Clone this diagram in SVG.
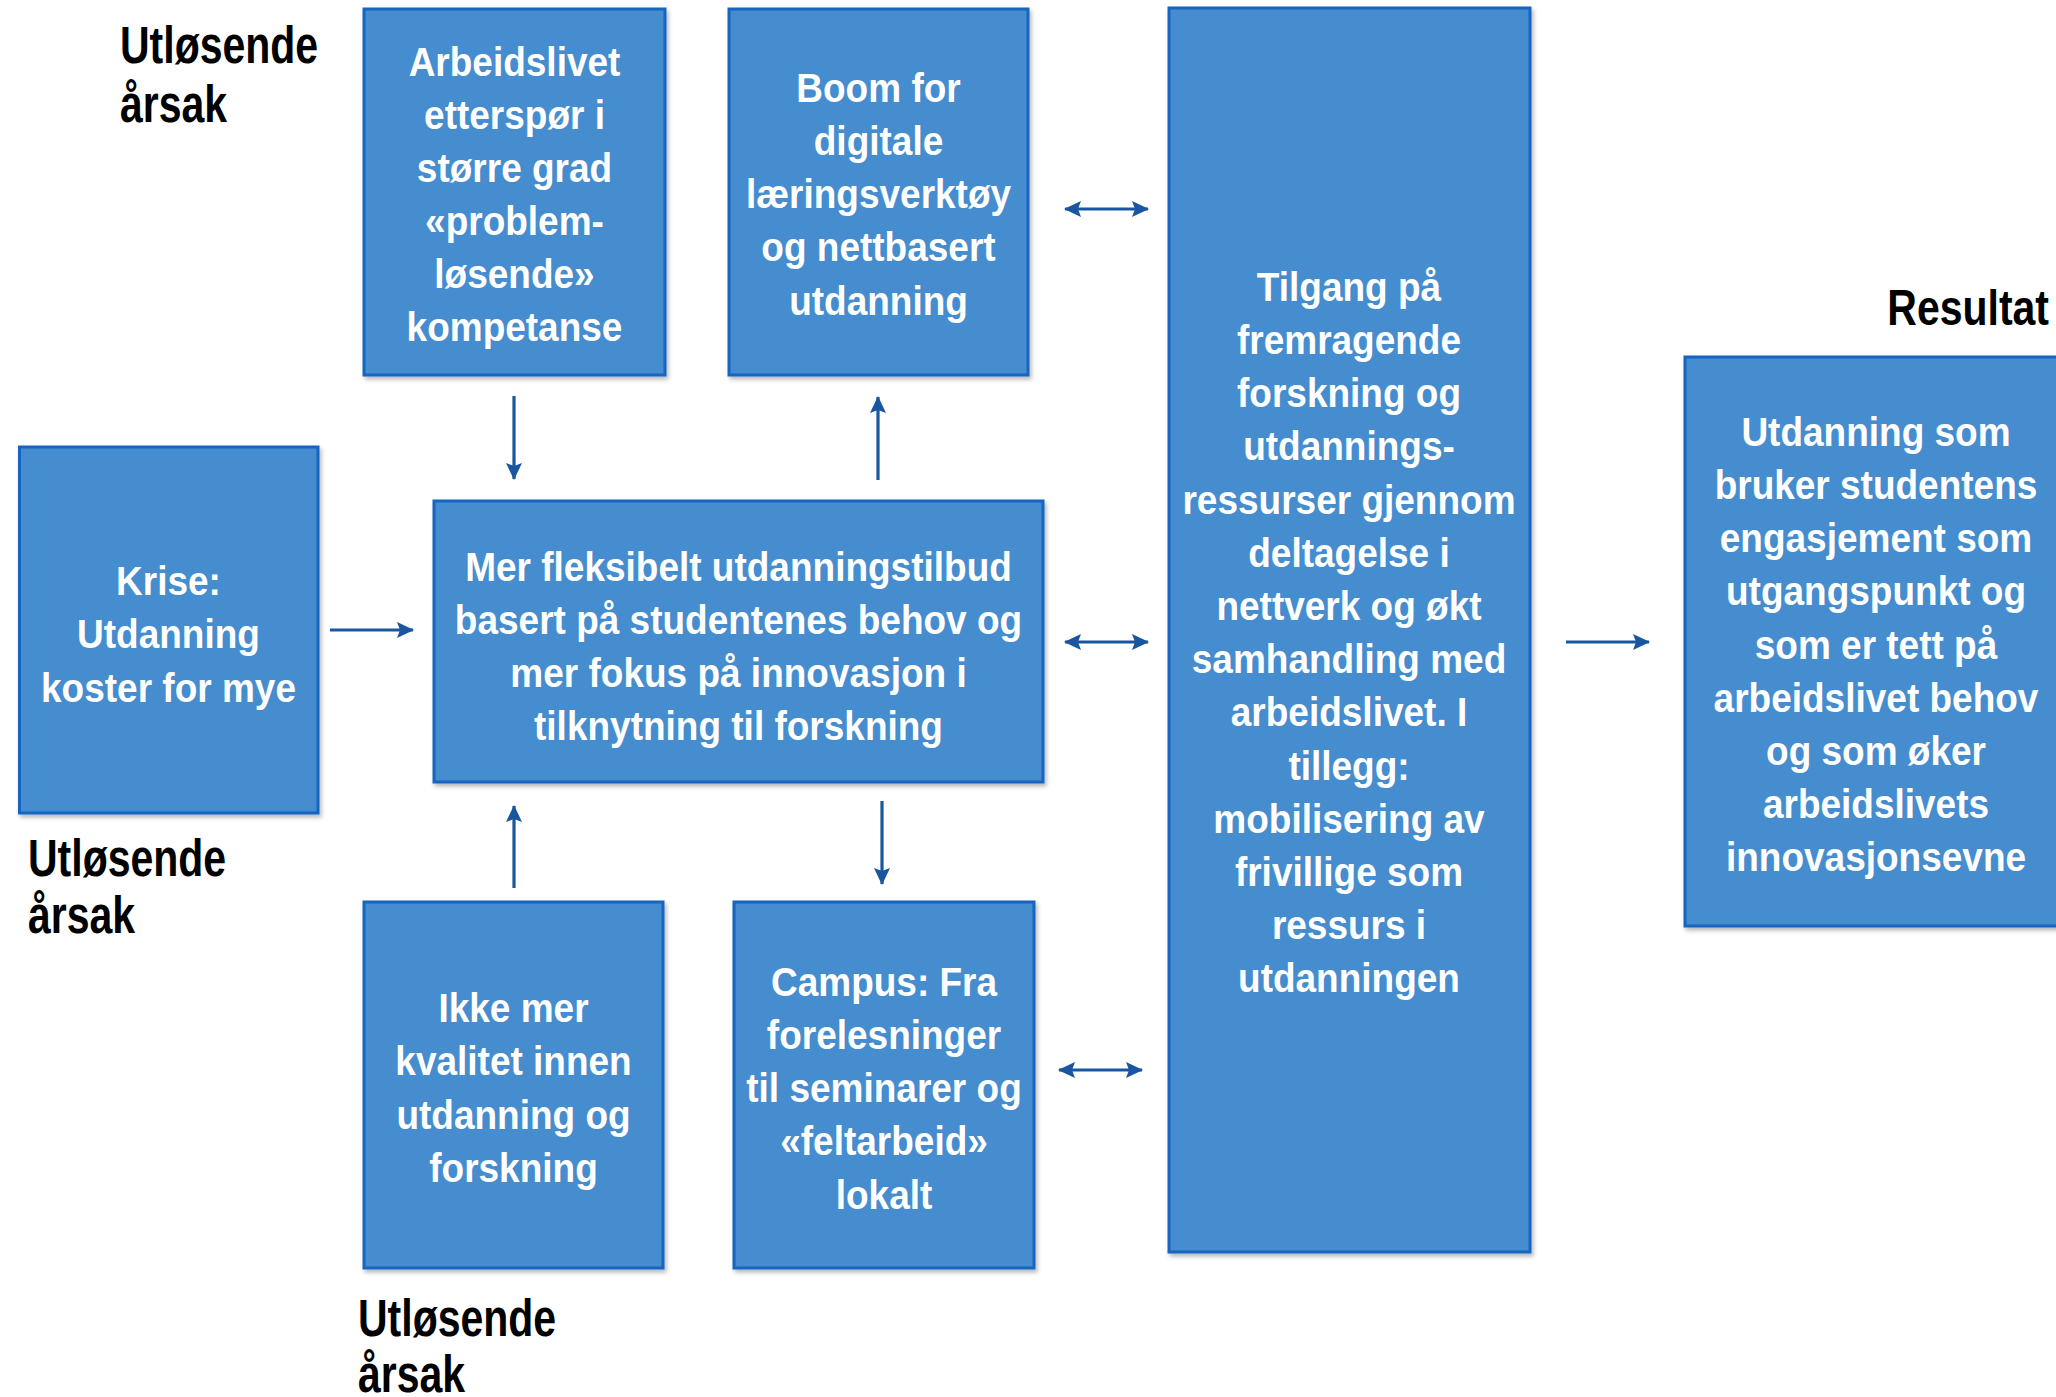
<svg xmlns="http://www.w3.org/2000/svg" width="2056" height="1397" viewBox="0 0 2056 1397">
  <style>
    .box { fill: #448DCF; stroke: #1565C0; stroke-width: 3; filter: url(#shadow); }
    .bt { font-family: "Liberation Sans", Arial, sans-serif; font-weight: bold; font-size: 37px; fill: #FFFFFF; text-anchor: middle; }
    .lbl { font-family: "Liberation Sans", Arial, sans-serif; font-weight: bold; font-size: 41px; fill: #000000; }
    .conn { stroke: #1A56A0; stroke-width: 3.2; fill: none; }
  </style>
  <defs>
    <filter id="shadow" x="-5%" y="-5%" width="115%" height="115%">
      <feDropShadow dx="2" dy="3" stdDeviation="2" flood-color="#000000" flood-opacity="0.28"/>
    </filter>
    <marker id="head" viewBox="0 0 17 16" refX="16" refY="8" markerWidth="17" markerHeight="16" markerUnits="userSpaceOnUse" orient="auto-start-reverse">
      <path d="M0,0 L17,8 L0,16 L3,8 Z" fill="#1A56A0"/>
    </marker>
  </defs>

  <rect width="2056" height="1397" fill="#FFFFFF"/>

  <!-- section labels -->
  <g id="labels">
    <text class="lbl" transform="translate(120,63) scale(1,1.25)"><tspan x="0" y="0">Utløsende</tspan><tspan x="0" dy="47">årsak</tspan></text>
    <text class="lbl" transform="translate(28,876) scale(1,1.25)"><tspan x="0" y="0">Utløsende</tspan><tspan x="0" dy="45.5">årsak</tspan></text>
    <text class="lbl" transform="translate(358,1336) scale(1,1.25)"><tspan x="0" y="0">Utløsende</tspan><tspan x="0" dy="45">årsak</tspan></text>
    <text class="lbl" text-anchor="end" transform="translate(2049,325) scale(1,1.22)">Resultat</text>
  </g>

  <!-- connectors -->
  <g id="connectors">
    <line class="conn" x1="514" y1="396" x2="514" y2="479" marker-end="url(#head)"/>
    <line class="conn" x1="878" y1="480" x2="878" y2="397" marker-end="url(#head)"/>
    <line class="conn" x1="330" y1="630" x2="413" y2="630" marker-end="url(#head)"/>
    <line class="conn" x1="514" y1="888" x2="514" y2="806" marker-end="url(#head)"/>
    <line class="conn" x1="882" y1="801" x2="882" y2="884" marker-end="url(#head)"/>
    <line class="conn" x1="1065" y1="209" x2="1148" y2="209" marker-start="url(#head)" marker-end="url(#head)"/>
    <line class="conn" x1="1065" y1="642" x2="1148" y2="642" marker-start="url(#head)" marker-end="url(#head)"/>
    <line class="conn" x1="1059" y1="1070" x2="1142" y2="1070" marker-start="url(#head)" marker-end="url(#head)"/>
    <line class="conn" x1="1566" y1="642" x2="1649" y2="642" marker-end="url(#head)"/>
  </g>

  <!-- nodes -->
  <g id="arbeidslivet">
    <rect class="box" x="364" y="9" width="301" height="366"/>
    <text class="bt" transform="translate(514.5,76) scale(1,1.11)"><tspan x="0" y="0">Arbeidslivet</tspan><tspan x="0" dy="47.8">etterspør i</tspan><tspan x="0" dy="47.8">større grad</tspan><tspan x="0" dy="47.8">«problem-</tspan><tspan x="0" dy="47.8">løsende»</tspan><tspan x="0" dy="47.8">kompetanse</tspan></text>
  </g>

  <g id="boom">
    <rect class="box" x="729" y="9" width="299" height="366"/>
    <text class="bt" transform="translate(878.5,102) scale(1,1.11)"><tspan x="0" y="0">Boom for</tspan><tspan x="0" dy="47.9">digitale</tspan><tspan x="0" dy="47.9">læringsverktøy</tspan><tspan x="0" dy="47.9">og nettbasert</tspan><tspan x="0" dy="47.9">utdanning</tspan></text>
  </g>

  <g id="krise">
    <rect class="box" x="19.5" y="447" width="298.5" height="366"/>
    <text class="bt" transform="translate(168.5,595) scale(1,1.11)"><tspan x="0" y="0">Krise:</tspan><tspan x="0" dy="48">Utdanning</tspan><tspan x="0" dy="48">koster for mye</tspan></text>
  </g>

  <g id="fleksibelt">
    <rect class="box" x="434" y="501" width="609" height="281"/>
    <text class="bt" transform="translate(738.5,581) scale(1,1.11)"><tspan x="0" y="0">Mer fleksibelt utdanningstilbud</tspan><tspan x="0" dy="47.8">basert på studentenes behov og</tspan><tspan x="0" dy="47.8">mer fokus på innovasjon i</tspan><tspan x="0" dy="47.8">tilknytning til forskning</tspan></text>
  </g>

  <g id="kvalitet">
    <rect class="box" x="364" y="902" width="299" height="366"/>
    <text class="bt" transform="translate(513.5,1022) scale(1,1.11)"><tspan x="0" y="0">Ikke mer</tspan><tspan x="0" dy="48.2">kvalitet innen</tspan><tspan x="0" dy="48.2">utdanning og</tspan><tspan x="0" dy="48.2">forskning</tspan></text>
  </g>

  <g id="campus">
    <rect class="box" x="734" y="902" width="300" height="366"/>
    <text class="bt" transform="translate(884,996) scale(1,1.11)"><tspan x="0" y="0">Campus: Fra</tspan><tspan x="0" dy="47.9">forelesninger</tspan><tspan x="0" dy="47.9">til seminarer og</tspan><tspan x="0" dy="47.9">«feltarbeid»</tspan><tspan x="0" dy="47.9">lokalt</tspan></text>
  </g>

  <g id="tilgang">
    <rect class="box" x="1169" y="8" width="361" height="1244"/>
    <text class="bt" transform="translate(1349,301) scale(1,1.11)"><tspan x="0" y="0">Tilgang på</tspan><tspan x="0" dy="47.9">fremragende</tspan><tspan x="0" dy="47.9">forskning og</tspan><tspan x="0" dy="47.9">utdannings-</tspan><tspan x="0" dy="47.9">ressurser gjennom</tspan><tspan x="0" dy="47.9">deltagelse i</tspan><tspan x="0" dy="47.9">nettverk og økt</tspan><tspan x="0" dy="47.9">samhandling med</tspan><tspan x="0" dy="47.9">arbeidslivet. I</tspan><tspan x="0" dy="47.9">tillegg:</tspan><tspan x="0" dy="47.9">mobilisering av</tspan><tspan x="0" dy="47.9">frivillige som</tspan><tspan x="0" dy="47.9">ressurs i</tspan><tspan x="0" dy="47.9">utdanningen</tspan></text>
  </g>

  <g id="resultat">
    <rect class="box" x="1685" y="357" width="382" height="569"/>
    <text class="bt" transform="translate(1876,446) scale(1,1.11)"><tspan x="0" y="0">Utdanning som</tspan><tspan x="0" dy="47.9">bruker studentens</tspan><tspan x="0" dy="47.9">engasjement som</tspan><tspan x="0" dy="47.9">utgangspunkt og</tspan><tspan x="0" dy="47.9">som er tett på</tspan><tspan x="0" dy="47.9">arbeidslivet behov</tspan><tspan x="0" dy="47.9">og som øker</tspan><tspan x="0" dy="47.9">arbeidslivets</tspan><tspan x="0" dy="47.9">innovasjonsevne</tspan></text>
  </g>
</svg>
